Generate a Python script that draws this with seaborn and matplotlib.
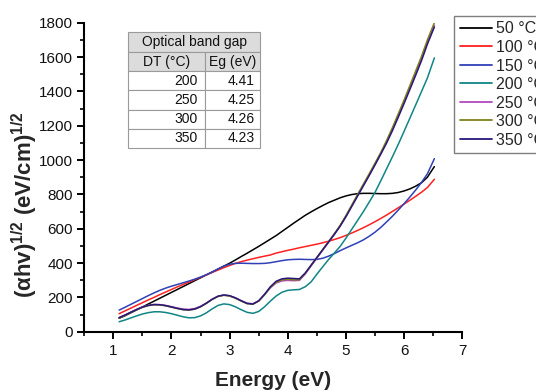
import matplotlib
matplotlib.use("Agg")
import matplotlib.pyplot as plt
from matplotlib.ticker import MultipleLocator
import pandas as pd
import seaborn as sns

# Photon energy grid (eV)
energy = [1.1, 1.2, 1.3, 1.4, 1.5, 1.6, 1.7, 1.8, 1.9, 2.0,
          2.1, 2.2, 2.3, 2.4, 2.5, 2.6, 2.7, 2.8, 2.9, 3.0,
          3.1, 3.2, 3.3, 3.4, 3.5, 3.6, 3.7, 3.8, 3.9, 4.0,
          4.1, 4.2, 4.3, 4.4, 4.5, 4.6, 4.7, 4.8, 4.9, 5.0,
          5.1, 5.2, 5.3, 5.4, 5.5, 5.6, 5.7, 5.8, 5.9, 6.0,
          6.1, 6.2, 6.3, 6.4, 6.52]

# (alpha*h*nu)^(1/2) for each deposition temperature
t50 = [78, 93, 110, 127, 144, 161, 178, 195, 212, 229,
       246, 263, 280, 297, 314, 331, 348, 365, 382, 399,
       418, 438, 457, 477, 497, 518, 539, 560, 584, 608,
       632, 655, 678, 698, 717, 735, 752, 766, 780, 791,
       799, 804, 806, 806, 805, 804, 804, 806, 811, 820,
       832, 848, 868, 900, 962]
t100 = [105, 121, 137, 153, 169, 185, 200, 216, 231, 246,
        261, 275, 289, 303, 317, 331, 345, 359, 373, 386,
        398, 408, 417, 425, 433, 440, 447, 458, 466, 474,
        481, 489, 496, 503, 510, 518, 527, 537, 548, 561,
        575, 590, 606, 623, 641, 660, 680, 701, 722, 744,
        766, 789, 813, 840, 888]
t150 = [126, 142, 159, 176, 193, 210, 226, 241, 254, 265,
        275, 285, 295, 306, 318, 332, 347, 365, 382, 393,
        398, 399, 398, 397, 397, 398, 402, 408, 414, 419,
        421, 422, 421, 420, 421, 428, 440, 455, 472, 488,
        503, 518, 535, 556, 580, 608, 640, 673, 709, 746,
        785, 826, 870, 920, 1008]
t200 = [58, 68, 80, 92, 103, 111, 116, 116, 112, 105,
        96, 87, 81, 82, 92, 110, 133, 153, 162, 158,
        145, 128, 113, 107, 118, 145, 178, 208, 230, 241,
        244, 246, 262, 290, 335, 378, 420, 458, 497, 545,
        597, 648, 700, 755, 812, 880, 950, 1020, 1092, 1168,
        1245, 1322, 1400, 1478, 1595]
t250 = [82, 97, 114, 130, 144, 154, 159, 158, 153, 146,
        138, 132, 130, 135, 148, 167, 189, 206, 213, 209,
        197, 181, 166, 163, 180, 215, 255, 284, 296, 299,
        297, 299, 336, 383, 429, 475, 521, 567, 616, 673,
        734, 795, 855, 915, 976, 1040, 1108, 1182, 1262, 1342,
        1426, 1510, 1595, 1688, 1785]
t300 = [80, 95, 112, 128, 142, 152, 157, 156, 151, 143,
        135, 128, 126, 131, 145, 165, 188, 205, 212, 208,
        195, 178, 163, 160, 178, 215, 258, 288, 302, 305,
        302, 303, 340, 387, 433, 479, 525, 571, 620, 677,
        738, 800, 860, 920, 982, 1045, 1115, 1190, 1270, 1350,
        1435, 1520, 1605, 1700, 1800]
t350 = [82, 97, 113, 129, 143, 153, 158, 157, 152, 144,
        136, 129, 127, 132, 146, 166, 189, 207, 214, 210,
        197, 180, 165, 161, 180, 218, 262, 294, 308, 312,
        310, 308, 342, 387, 432, 477, 522, 567, 615, 670,
        730, 790, 850, 910, 972, 1035, 1100, 1172, 1250, 1330,
        1412, 1495, 1580, 1675, 1775]

labels = ["50 °C", "100 °C", "150 °C", "200 °C", "250 °C", "300 °C", "350 °C"]
colors = ["#000000", "#ff2020", "#2f40b8", "#108585", "#b448c0", "#80801a", "#28187a"]
series = [t50, t100, t150, t200, t250, t300, t350]

# Band-gap table
dt_values = ["200", "250", "300", "350"]
eg_values = ["4.41", "4.25", "4.26", "4.23"]

frames = [pd.DataFrame({"Energy": energy, "value": vals, "T": lab})
          for lab, vals in zip(labels, series)]
df = pd.concat(frames, ignore_index=True)

sns.set_style("ticks")
plt.rcParams["font.family"] = ["Liberation Sans", "DejaVu Sans"]
plt.rcParams["mathtext.fontset"] = "custom"
plt.rcParams["mathtext.rm"] = "Liberation Sans"
plt.rcParams["mathtext.bf"] = "Liberation Sans:bold"
plt.rcParams["mathtext.default"] = "bf"

fig = plt.figure(figsize=(5.36, 3.92), dpi=100)
ax = fig.add_axes([0.1571, 0.1538, 0.7054, 0.7883])

sns.lineplot(data=df, x="Energy", y="value", hue="T", hue_order=labels,
             palette=colors, estimator=None, linewidth=1.1, ax=ax)

ax.set_xlim(0.5, 7)
ax.set_ylim(0, 1800)
ax.xaxis.set_major_locator(MultipleLocator(1))
ax.xaxis.set_minor_locator(MultipleLocator(0.5))
ax.yaxis.set_major_locator(MultipleLocator(200))
ax.yaxis.set_minor_locator(MultipleLocator(100))
ax.tick_params(axis="both", which="major", direction="out", length=5, width=1.4,
               labelsize=11, color="black", labelcolor="#111111")
ax.tick_params(axis="both", which="minor", direction="out", length=3, width=1.2,
               color="black")
ax.tick_params(axis="x", which="major", pad=4)
ax.tick_params(axis="y", which="major", pad=3)
sns.despine(ax=ax)
for side in ("left", "bottom"):
    ax.spines[side].set_linewidth(1.5)
    ax.spines[side].set_color("black")

ax.set_xlabel("Energy (eV)", fontsize=15, fontweight="bold")
ax.set_ylabel("(αhv)$^{1/2}$ (eV/cm)$^{1/2}$", fontsize=16, fontweight="bold")
ax.xaxis.set_label_coords(0.5, -0.128)
ax.yaxis.set_label_coords(-0.118, 0.41)

handles, lbls = ax.get_legend_handles_labels()
leg = ax.legend(handles, lbls, loc="upper left", bbox_to_anchor=(0.978, 1.022),
                frameon=True, fancybox=False, edgecolor="#7f7f7f", framealpha=1,
                fontsize=11.5, handlelength=2.0, handletextpad=0.3,
                borderpad=0.35, labelspacing=0.22, borderaxespad=0)
leg.get_frame().set_linewidth(1.0)
for line in leg.get_lines():
    line.set_linewidth(1.3)

# Band-gap table in the upper-left corner
x0, w = 0.1158, 0.3492
title_h, body_h = 0.0647, 0.3107
y_body = 0.5945
title_tab = ax.table(cellText=[["Optical band gap"]], cellLoc="center",
                     cellColours=[["#dcdcdc"]],
                     bbox=[x0, y_body + body_h, w, title_h])
body_tab = ax.table(cellText=[[d, e] for d, e in zip(dt_values, eg_values)],
                    colLabels=["DT (°C)", "Eg (eV)"], colColours=["#dcdcdc"] * 2,
                    cellLoc="right", colLoc="center", colWidths=[0.583, 0.417],
                    bbox=[x0, y_body, w, body_h])
for tab in (title_tab, body_tab):
    tab.auto_set_font_size(False)
    tab.set_fontsize(10)
    for cell in tab.get_celld().values():
        cell.set_edgecolor("#9a9a9a")
        cell.set_linewidth(0.8)
        cell.get_text().set_color("#111111")

fig.savefig("out.png", dpi=100)
